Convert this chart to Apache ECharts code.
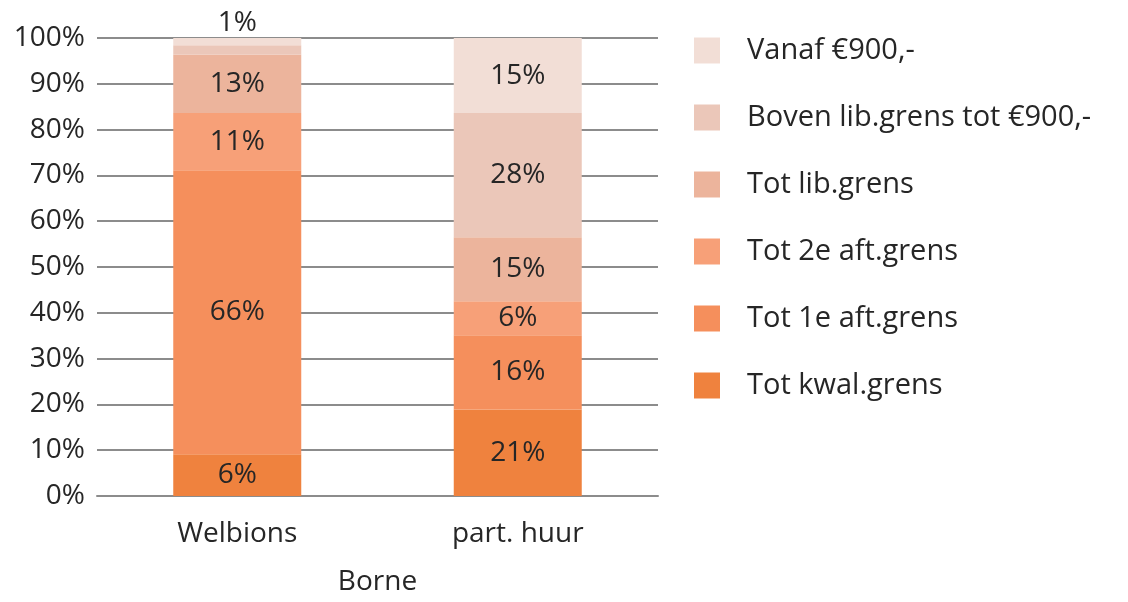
<!DOCTYPE html>
<html>
<head>
<meta charset="utf-8">
<script src="https://cdn.jsdelivr.net/npm/echarts@6/dist/echarts.min.js"></script>
<style>
  html, body { margin: 0; padding: 0; background: #fff; }
  #chart { width: 1128px; height: 602px; }
</style>
</head>
<body>
<div id="chart"></div>
<script>
// categorieen
var categories = ['Welbions', 'part. huur'];

// hoogte van de segmenten (aandeel in %)
var totKwal = [9.1, 18.9];
var tot1e = [62.0, 16.2];
var tot2e = [12.5, 7.4];
var totLib = [12.8, 14.0];
var bovenLib = [2.0, 27.1];
var vanaf900 = [1.6, 16.4];

// getoonde labels (zoals in de grafiek gedrukt)
var totKwalLbl = [6, 21];
var tot1eLbl = [66, 16];
var tot2eLbl = [11, 6];
var totLibLbl = [13, 15];
var bovenLibLbl = [null, 28];
var vanaf900Lbl = [1, 15];

var yTicks = { min: 0, max: 100, step: 10 };

var font = '"Open Sans", "Noto Sans", sans-serif';
var textColor = '#262626';

window.onload = function () {
    var chart = echarts.init(document.getElementById('chart'));

    // één serie opbouwen, labels komen uit de label-arrays
    function makeSeries (name, values, labels, color) {
        var data = [];
        for (var i = 0; i < values.length; i ++) {
            var item = { value: values[i] };
            if (labels[i] === null) {
                item.label = { show: false };
            } else if (values[i] < 4) {
                // klein segment: label boven de balk
                item.label = { position: 'top', distance: 1 };
            }
            data.push(item);
        }
        return {
            name: name,
            type: 'bar',
            stack: 'totaal',
            barWidth: 128,
            itemStyle: { color: color },
            label: {
                show: true,
                position: 'inside',
                color: textColor,
                fontFamily: font,
                fontSize: 28,
                formatter: function (p) {
                    var l = labels[p.dataIndex];
                    return l === null ? '' : l + '%';
                }
            },
            data: data
        };
    }

    var option = {
        animation: false,
        backgroundColor: '#fff',
        grid: {
            left: 97,
            right: 470,
            top: 38,
            bottom: 106,
            outerBoundsMode: 'none'
        },
        legend: {
            orient: 'vertical',
            left: 689,
            top: 31,
            itemWidth: 26,
            itemHeight: 26,
            itemGap: 38,
            icon: 'rect',
            textStyle: {
                fontFamily: font,
                fontSize: 29,
                color: textColor,
                padding: [0, 0, 0, 22]
            },
            data: ['Vanaf €900,-', 'Boven lib.grens tot €900,-', 'Tot lib.grens',
                   'Tot 2e aft.grens', 'Tot 1e aft.grens', 'Tot kwal.grens']
        },
        xAxis: {
            type: 'category',
            data: categories,
            axisLine: { lineStyle: { color: '#8c8c8c', width: 2 } },
            axisTick: { show: false },
            axisLabel: {
                fontFamily: font,
                fontSize: 28,
                color: textColor,
                margin: 24
            },
            name: 'Borne',
            nameLocation: 'middle',
            nameGap: 72,
            nameTextStyle: {
                fontFamily: font,
                fontSize: 28,
                color: textColor
            }
        },
        yAxis: {
            type: 'value',
            min: yTicks.min,
            max: yTicks.max,
            interval: yTicks.step,
            axisLine: { show: false },
            axisTick: { show: false },
            splitLine: { lineStyle: { color: '#8c8c8c', width: 2 } },
            axisLabel: {
                fontFamily: font,
                fontSize: 28,
                color: textColor,
                margin: 12,
                formatter: '{value}%'
            }
        },
        series: [
            makeSeries('Tot kwal.grens', totKwal, totKwalLbl, '#ef823e'),
            makeSeries('Tot 1e aft.grens', tot1e, tot1eLbl, '#f58f5c'),
            makeSeries('Tot 2e aft.grens', tot2e, tot2eLbl, '#f7a078'),
            makeSeries('Tot lib.grens', totLib, totLibLbl, '#ecb49c'),
            makeSeries('Boven lib.grens tot €900,-', bovenLib, bovenLibLbl, '#ebc7b9'),
            makeSeries('Vanaf €900,-', vanaf900, vanaf900Lbl, '#f2ded6')
        ]
    };

    chart.setOption(option);
}
</script>
</body>
</html>
